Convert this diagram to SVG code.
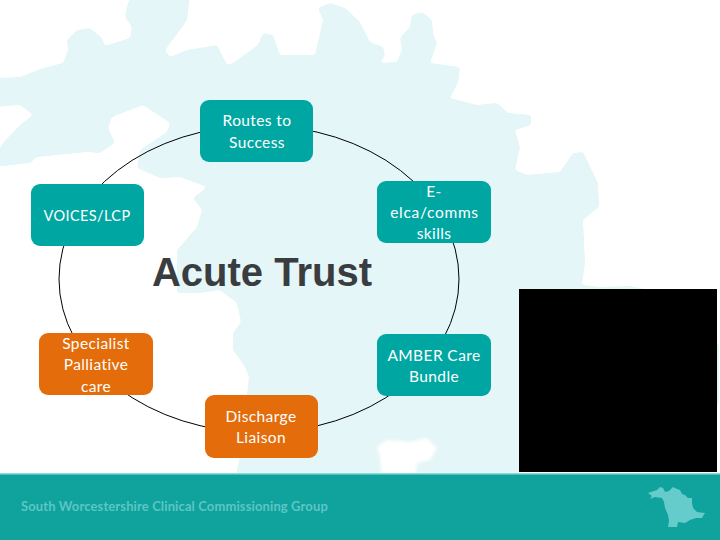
<svg xmlns="http://www.w3.org/2000/svg" width="720" height="540" viewBox="0 0 720 540">
<style>
.n{font-family:"Lato","Open Sans",sans-serif;font-size:15.5px;fill:#fff;text-anchor:middle;letter-spacing:.4px}
.t{fill:#00a7a2}
.o{fill:#e46c0a}
</style>
<defs>
<filter id="smooth" x="-5%" y="-5%" width="110%" height="110%" color-interpolation-filters="sRGB">
<feGaussianBlur stdDeviation="1.6"/>
<feComponentTransfer><feFuncA type="linear" slope="6" intercept="-2.5"/></feComponentTransfer>
</filter>
</defs>
<rect width="720" height="540" fill="#fff"/>
<g id="map" filter="url(#smooth)">
<path fill="#e4f6f7" d="M-6,78 L20,77 43,68 63,63 68,50 67,40 77,30 90,28 102,38 105,46 130,38 132,27 125,17 128,3 132,-6 190,-6 187,20 180,30 165,50 170,57 187,50 217,45 227,65 233,63 258,45 263,33 273,35 280,55 315,55 323,20 318,8 330,3 345,8 360,22 370,42 383,47 385,55 380,63 397,62 402,50 400,38 410,27 412,15 422,12 432,20 433,33 437,43 430,63 460,67 458,83 450,98 477,105 497,103 508,113 531,115 531,125 515,130 520,147 515,170 527,175 560,172 573,153 583,152 598,183 599,207 583,220 585,263 582,285 600,287 630,286 660,292 700,320 719,345 719,400 700,480 237,480 237,470 240,457 249,377 245,367 233,350 233,333 241,322 237,303 220,290 200,293 177,293 177,250 197,227 202,210 193,198 207,187 180,177 160,178 137,168 140,150 167,132 170,123 143,105 112,117 108,128 115,143 100,153 87,152 37,157 30,163 -6,167 -6,160 3,143 20,125 33,115 20,105 -6,107 Z"/>
<path fill="#fff" d="M377,447 L387,440 410,442 427,438 437,448 430,460 417,463 415,480 382,480 380,457 Z"/>
</g>
<rect x="0" y="473" width="720" height="67" fill="#10a29c"/>
<rect x="0" y="473" width="720" height="1.5" fill="#8fdcdc"/>
<rect x="519" y="289" width="198" height="183" fill="#000"/>
<rect x="519" y="472" width="198" height="1" fill="#fff"/>
<g id="connectors" fill="none" stroke="#000" stroke-width="1">
<ellipse cx="259" cy="279" rx="200" ry="153.5"/>
</g>
<g id="title"><text x="262" y="286" font-family="Liberation Sans,Arial,sans-serif" font-weight="700" font-size="40" fill="#3a3d40" text-anchor="middle">Acute Trust</text></g>
<g id="node-routes"><rect class="t" x="200" y="100" width="113" height="62" rx="9"/><text class="n" x="257" y="126">Routes to</text><text class="n" x="257" y="148">Success</text></g>
<g id="node-elca"><rect class="t" x="377" y="181" width="114" height="62" rx="9"/><text class="n" x="434" y="197">E-</text><text class="n" x="434.500" y="218" style="letter-spacing:.7px">elca/comms</text><text class="n" x="434" y="239">skills</text></g>
<g id="node-voices"><rect class="t" x="31" y="184" width="113" height="62" rx="9"/><text class="n" x="87" y="221" style="font-size:14.5px">VOICES/LCP</text></g>
<g id="node-specialist"><rect class="o" x="39" y="333" width="114" height="62" rx="9"/><text class="n" x="96" y="349">Specialist</text><text class="n" x="96" y="370">Palliative</text><text class="n" x="96" y="392">care</text></g>
<g id="node-amber"><rect class="t" x="377" y="334" width="114" height="62" rx="9"/><text class="n" x="434" y="361">AMBER Care</text><text class="n" x="434" y="382">Bundle</text></g>
<g id="node-discharge"><rect class="o" x="205" y="395" width="113" height="63" rx="9"/><text class="n" x="261" y="422">Discharge</text><text class="n" x="261" y="443">Liaison</text></g>
<g id="footer">
<text x="21" y="511" font-family="Lato,sans-serif" font-weight="700" font-size="13" letter-spacing=".12" fill="#5cc6c6">South Worcestershire Clinical Commissioning Group</text>
<path fill="#66cccb" d="M648,493 L657,490 660,487 663,488 665,492 669,491 673,487 677,489 680,490 682,494 685,495 688,498 692,498 692,503 693,508 697,512 705,513 703,516 702,518 696,518 690,520 685,523 678,522 677,527 668,527 669,521 668,515 665,508 664,502 662,498 655,497 650,499 652,496 Z"/>
</g>
</svg>
